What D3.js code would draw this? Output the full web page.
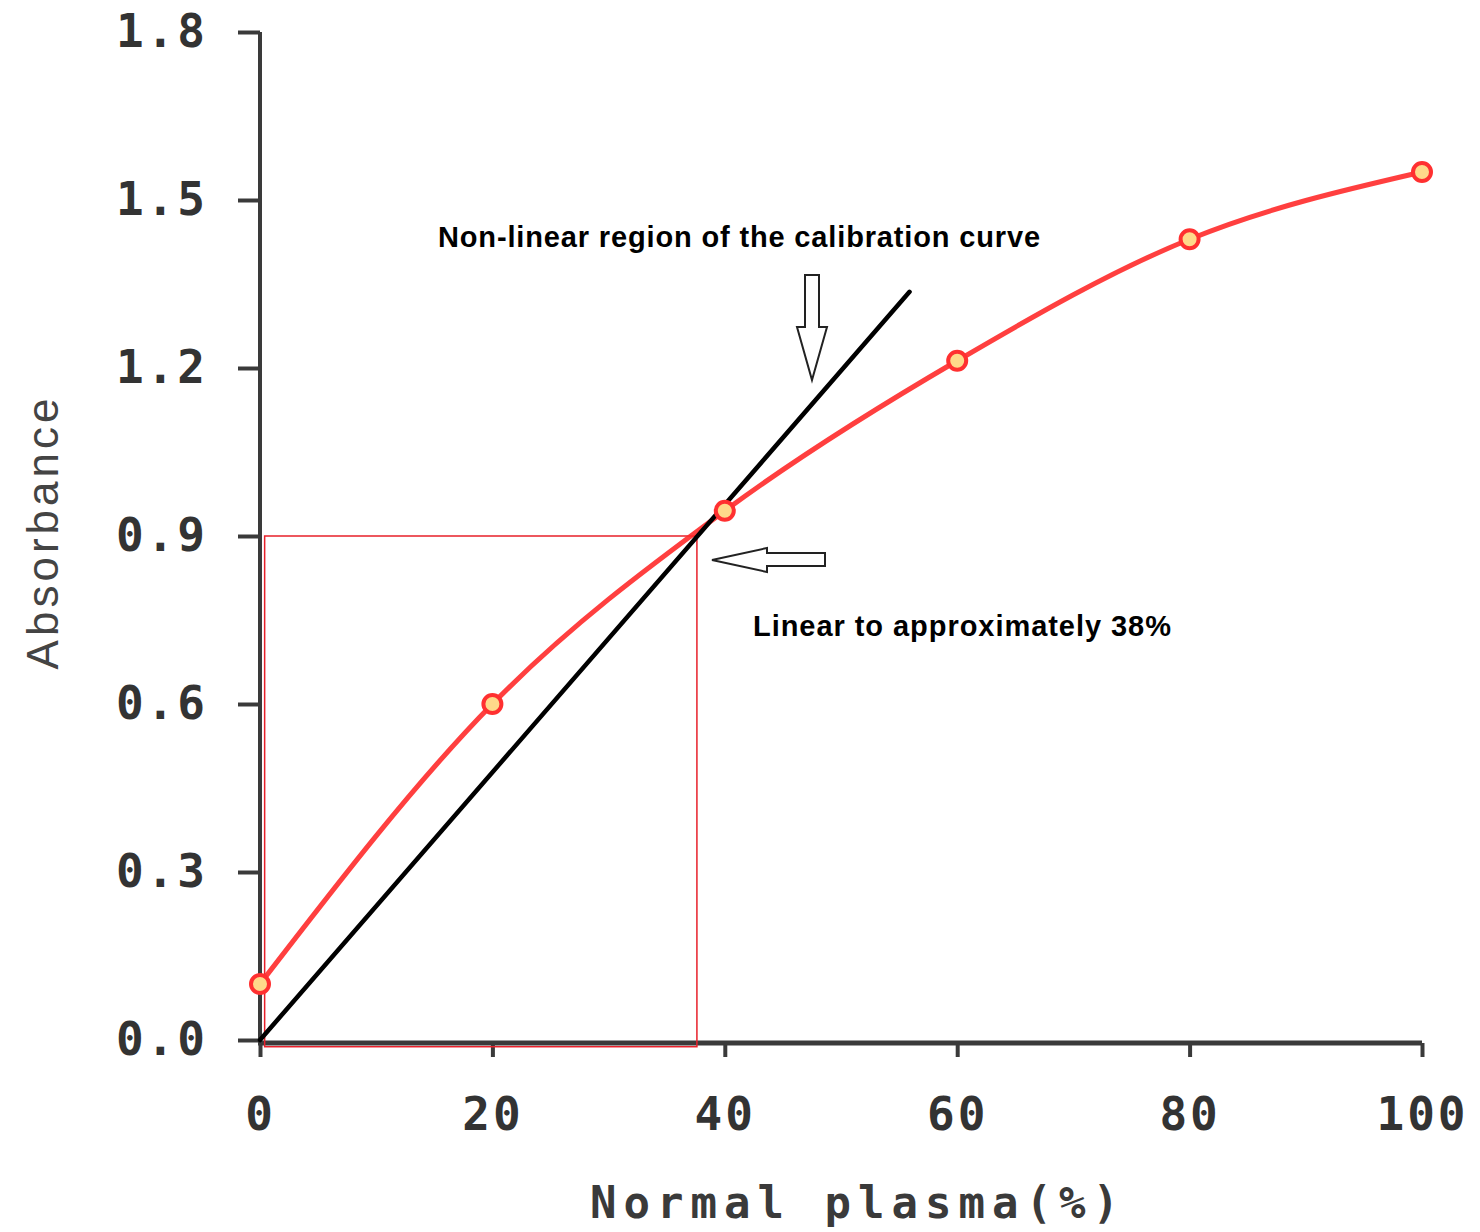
<!DOCTYPE html>
<html>
<head>
<meta charset="utf-8">
<script src="https://cdn.jsdelivr.net/npm/d3@7"></script>
<style>
  body { margin: 0; background: #fff; }
</style>
</head>
<body>
<div id="chart"></div>
<script>
// data
var plasma = [0, 20, 40, 60, 80, 100];
var absorbance = [0.1, 0.6, 0.945, 1.213, 1.43, 1.55];
var xTicks = [0, 20, 40, 60, 80, 100];
var yTicks = [0.0, 0.3, 0.6, 0.9, 1.2, 1.5, 1.8];
var linearFit = [[0, 0], [55.9, 1.336]];
var linearBox = [[0.4, -0.012], [37.6, 0.9]];

var width = 1480, height = 1232;

var x = d3.scaleLinear().domain([0, 100]).range([260, 1422]);
var y = d3.scaleLinear().domain([0, 1.8]).range([1040, 32]);

var svg = d3.select("#chart").append("svg")
  .attr("width", width)
  .attr("height", height);

var axisColor = "#3a3a3a";

// y axis
var yAxis = svg.append("g")
  .attr("transform", "translate(260,0)")
  .call(d3.axisLeft(y).tickValues(yTicks).tickSize(22).tickPadding(30)
    .tickFormat(d3.format(".1f")));
yAxis.select(".domain").remove();
yAxis.append("line")
  .attr("x1", 0).attr("x2", 0)
  .attr("y1", y(1.8)).attr("y2", y(0) + 2)
  .attr("stroke", axisColor).attr("stroke-width", 4);
yAxis.selectAll(".tick line").attr("stroke", axisColor).attr("stroke-width", 4);
yAxis.selectAll(".tick text")
  .attr("fill", "#333")
  .style("font-family", "'DejaVu Sans Mono', monospace")
  .style("font-weight", "bold")
  .style("font-size", "46px")
  .style("letter-spacing", "3px");

// x axis
var xAxis = svg.append("g")
  .attr("transform", "translate(0,1043)")
  .call(d3.axisBottom(x).tickValues(xTicks).tickSize(14).tickPadding(40));
xAxis.select(".domain").remove();
xAxis.append("line")
  .attr("x1", x(0) - 2).attr("x2", x(100))
  .attr("y1", 0).attr("y2", 0)
  .attr("stroke", axisColor).attr("stroke-width", 5);
xAxis.selectAll(".tick line").attr("stroke", axisColor).attr("stroke-width", 4);
xAxis.selectAll(".tick text")
  .attr("fill", "#333")
  .style("font-family", "'DejaVu Sans Mono', monospace")
  .style("font-weight", "bold")
  .style("font-size", "46px")
  .style("letter-spacing", "3px");

// axis titles
svg.append("text")
  .attr("x", 858).attr("y", 1218)
  .attr("text-anchor", "middle")
  .attr("fill", "#3a3a3a")
  .style("font-family", "'DejaVu Sans Mono', monospace")
  .style("font-weight", "bold")
  .style("font-size", "44px")
  .style("letter-spacing", "7px")
  .text("Normal plasma(%)");

svg.append("text")
  .attr("transform", "translate(58,532) rotate(-90)")
  .attr("text-anchor", "middle")
  .attr("fill", "#444")
  .style("font-family", "'Liberation Sans', Arial, sans-serif")
  .style("font-size", "44px")
  .style("letter-spacing", "4px")
  .text("Absorbance");

// linear region box
svg.append("rect")
  .attr("x", x(linearBox[0][0]))
  .attr("y", y(linearBox[1][1]))
  .attr("width", x(linearBox[1][0]) - x(linearBox[0][0]))
  .attr("height", y(linearBox[0][1]) - y(linearBox[1][1]))
  .attr("fill", "none")
  .attr("stroke", "#e8202a")
  .attr("stroke-width", 1.5);

// calibration curve
var pts = plasma.map(function(d, i) { return [d, absorbance[i]]; });
var line = d3.line()
  .x(function(d) { return x(d[0]); })
  .y(function(d) { return y(d[1]); })
  .curve(d3.curveMonotoneX);

svg.append("path")
  .datum(pts)
  .attr("d", line)
  .attr("fill", "none")
  .attr("stroke", "#ff2a2a")
  .attr("stroke-width", 5)
  .attr("stroke-opacity", 0.9);

// straight line
svg.append("path")
  .datum(linearFit)
  .attr("d", d3.line().x(function(d) { return x(d[0]); }).y(function(d) { return y(d[1]); }))
  .attr("stroke", "#000")
  .attr("stroke-width", 4.5)
  .attr("stroke-linecap", "round");

// markers
svg.selectAll("circle.pt")
  .data(pts)
  .enter()
  .append("circle")
    .attr("class", "pt")
    .attr("cx", function(d) { return x(d[0]); })
    .attr("cy", function(d) { return y(d[1]); })
    .attr("r", 9)
    .attr("fill", "#ffd98a")
    .attr("stroke", "#ff3030")
    .attr("stroke-width", 4);

// arrows (outline shapes)
var downArrow = [[805,275],[819,275],[819,327],[827,327],[812,380],[797,327],[805,327]];
var leftArrow = [[712,560],[767,548],[767,553],[825,553],[825,566],[767,566],[767,572]];
[downArrow, leftArrow].forEach(function(a) {
  svg.append("path")
    .attr("d", d3.line()(a) + "Z")
    .attr("fill", "#fff")
    .attr("stroke", "#222")
    .attr("stroke-width", 2);
});

// annotations
svg.append("text")
  .attr("x", 438).attr("y", 247)
  .style("font-family", "'Liberation Sans', Arial, sans-serif")
  .style("font-weight", "bold")
  .style("font-size", "29px")
  .style("letter-spacing", "0.85px")
  .text("Non-linear region of the calibration curve");

svg.append("text")
  .attr("x", 753).attr("y", 636)
  .style("font-family", "'Liberation Sans', Arial, sans-serif")
  .style("font-weight", "bold")
  .style("font-size", "29px")
  .style("letter-spacing", "0.95px")
  .text("Linear to approximately 38%");
</script>
</body>
</html>
